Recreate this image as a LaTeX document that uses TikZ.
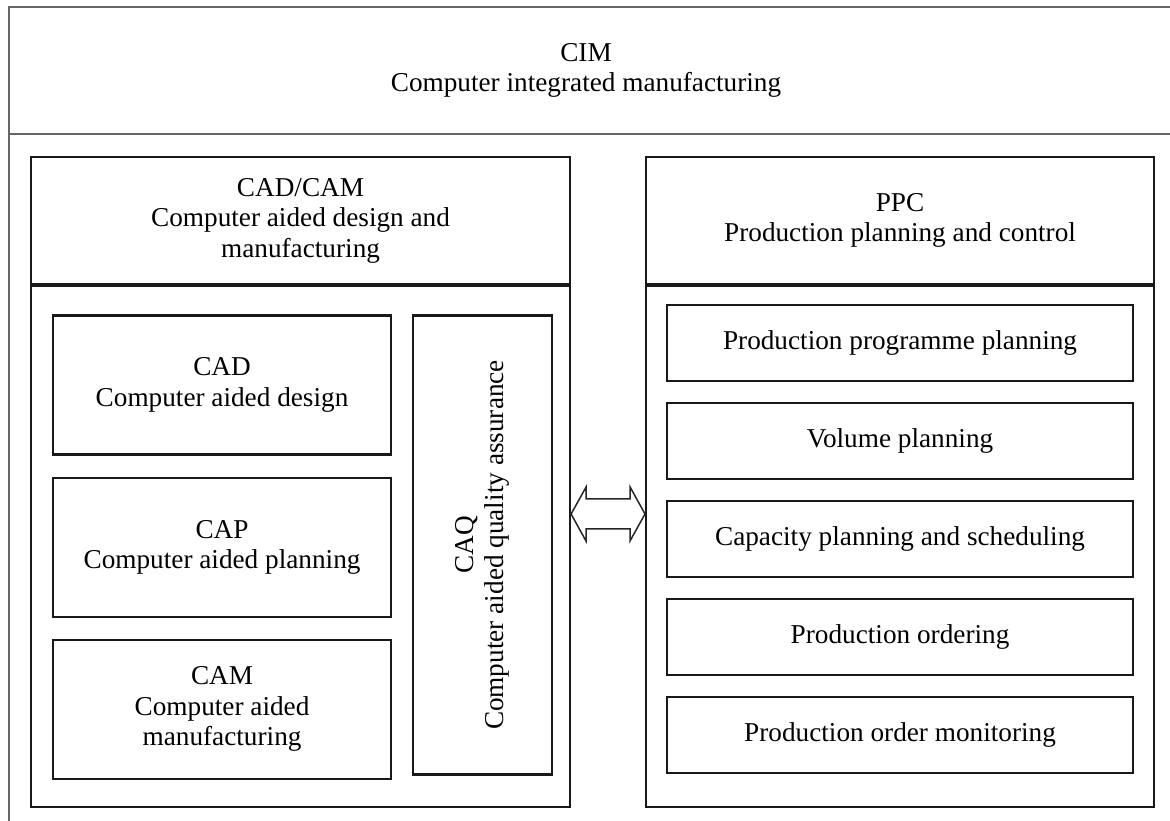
\documentclass[tikz,border=0pt]{standalone}
\usepackage{fontspec}
\setmainfont{Liberation Serif}
\usetikzlibrary{positioning}
\begin{document}
\begin{tikzpicture}[
    every node/.style={font=\fontsize{15.5pt}{17.3pt}\selectfont, align=center},
    frameline/.style={draw=black!60, line width=0.024cm},
    block/.style={draw=black!90, line width=0.042cm, rectangle, inner sep=0pt, anchor=north west},
    arrowline/.style={draw=black!85, line width=0.03cm, line join=miter}
  ]
  \useasboundingbox (0,0) rectangle (23.4,16.42);
  \clip (0,0) rectangle (23.4,16.42);

  % Drawing frame CIM
  \draw [frameline] (0.18,-0.5) -- (0.18,16.28) -- (24.0,16.28);%
  \draw [frameline] (0.18,13.74) -- (24.0,13.74);%
  \node (cim) at (11.72,15.01) {CIM\\Computer integrated manufacturing};%

  % Drawing box CAD/CAM
  \node [block, minimum width=10.78cm, minimum height=2.54cm] (cadcamhead) at (0.60,13.30)
    {CAD/CAM\\Computer aided design and\\manufacturing};%
  \node [block, minimum width=10.78cm, minimum height=10.42cm] (cadcambody) at (cadcamhead.south west) {};%

  % Drawing boxes CAD, CAP, CAM
  \node [block, minimum width=6.76cm, minimum height=2.78cm] (cad) at (1.04,10.13)
    {CAD\\Computer aided design};%
  \node [block, minimum width=6.76cm, minimum height=2.78cm, below=0.42cm of cad.south west, anchor=north west] (cap)
    {CAP\\Computer aided planning};%
  \node [block, minimum width=6.76cm, minimum height=2.78cm, below=0.42cm of cap.south west, anchor=north west] (cam)
    {CAM\\Computer aided\\manufacturing};%

  % Drawing box CAQ
  \node [block, minimum width=2.78cm, minimum height=9.18cm] (caq) at (8.24,10.13) {};%
  \node [rotate=90] (caqtext) at (caq.center) {CAQ\\Computer aided quality assurance};%

  % Drawing box PPC
  \node [block, minimum width=10.16cm, minimum height=2.54cm] (ppchead) at (12.90,13.30)
    {PPC\\Production planning and control};%
  \node [block, minimum width=10.16cm, minimum height=10.42cm] (ppcbody) at (ppchead.south west) {};%

  % Drawing boxes of PPC
  \node [block, minimum width=9.32cm, minimum height=1.52cm] (programme) at (13.32,10.34)
    {Production programme planning};%
  \node [block, minimum width=9.32cm, minimum height=1.52cm, below=0.40cm of programme.south west, anchor=north west] (volume)
    {Volume planning};%
  \node [block, minimum width=9.32cm, minimum height=1.52cm, below=0.40cm of volume.south west, anchor=north west] (capacity)
    {Capacity planning and scheduling};%
  \node [block, minimum width=9.32cm, minimum height=1.52cm, below=0.40cm of capacity.south west, anchor=north west] (ordering)
    {Production ordering};%
  \node [block, minimum width=9.32cm, minimum height=1.52cm, below=0.40cm of ordering.south west, anchor=north west] (monitoring)
    {Production order monitoring};%

  % Drawing double arrow CAD/CAM -- PPC
  \coordinate (cadtip) at (cadcambody.east |- 0,6.14);%
  \coordinate (ppctip) at (ppcbody.west |- 0,6.14);%
  \draw [arrowline] (cadtip) -- ++(0.30,0.54) -- ++(0,-0.24) -- ++(0.88,0) -- ++(0,0.24)
    -- (ppctip) -- ++(-0.30,-0.54) -- ++(0,0.24) -- ++(-0.88,0) -- ++(0,-0.24) -- cycle;%
\end{tikzpicture}
\end{document}
